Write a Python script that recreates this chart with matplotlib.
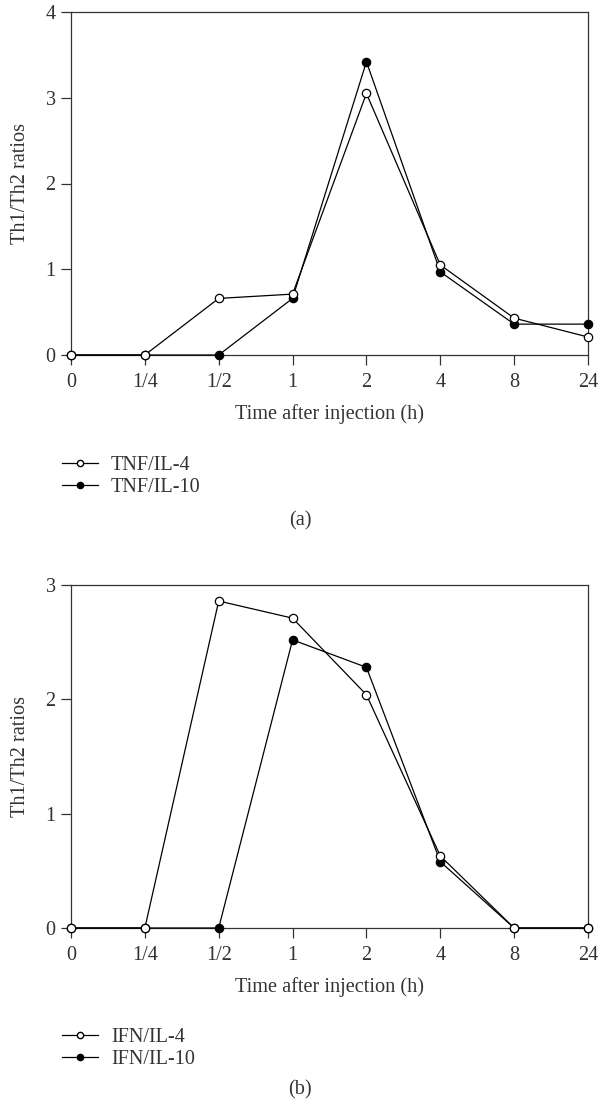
import matplotlib.pyplot as plt
from matplotlib.lines import Line2D

# categorical time points
times = ["0", "1/4", "1/2", "1", "2", "4", "8", "24"]

# panel (a)
tnf_il4 = [0, 0, 0.66, 0.71, 3.05, 1.05, 0.43, 0.21]
tnf_il10 = [0, 0, 0, 0.66, 3.42, 0.97, 0.36, 0.36]

# panel (b)
ifn_il4 = [0, 0, 2.86, 2.71, 2.04, 0.63, 0, 0]
ifn_il10 = [0, 0, 0, 2.52, 2.28, 0.58, 0, 0]

plt.rcParams['font.family'] = ['Liberation Serif', 'DejaVu Serif']
plt.rcParams['font.size'] = 14.6

fig = plt.figure(figsize=(6, 11.09), dpi=100)

def panel(rect, open_vals, filled_vals, ymax, names, legend_y, letter, letter_y):
    ax = fig.add_axes(rect)
    x = range(len(times))
    ax.plot(x, filled_vals, color='black', lw=0.9, marker='o', ms=6,
            mfc='black', mec='black', mew=0.9, zorder=3, clip_on=False)
    ax.plot(x, open_vals, color='black', lw=0.9, marker='o', ms=6,
            mfc='white', mec='black', mew=0.9, zorder=4, clip_on=False)
    ax.set_xlim(0, len(times) - 1)
    ax.set_ylim(0, ymax)
    ax.set_xticks(list(x))
    ax.set_xticklabels(times)
    ax.set_yticks(range(ymax + 1))
    ax.tick_params(direction='out', length=7, width=0.9, pad=4, color='#333333')
    ax.tick_params(axis='x', pad=6)
    for s in ax.spines.values():
        s.set_linewidth(0.9)
        s.set_color('#333333')
    ax.set_xlabel("Time after injection (h)", labelpad=9, color='#333333')
    ax.set_ylabel("Th1/Th2 ratios", labelpad=11, color='#333333')
    ax.tick_params(labelcolor='#333333')

    handles = [
        Line2D([], [], color='black', lw=0.9, marker='o', ms=4.5, mfc='white', mec='black'),
        Line2D([], [], color='black', lw=0.9, marker='o', ms=4.5, mfc='black', mec='black'),
    ]
    fig.legend(handles, names, loc='upper left', bbox_to_anchor=(44 / 600, 1 - legend_y / 1109),
               frameon=False, handlelength=1.75, handletextpad=0.65, labelspacing=0.12,
               labelcolor='#333333')
    fig.text(0.5, 1 - letter_y / 1109, letter, ha='center', va='center', color='#333333')
    return ax

panel([71 / 600, 1 - 355 / 1109, 517 / 600, 343 / 1109], tnf_il4, tnf_il10, 4,
      ["TNF/IL-4", "TNF/IL-10"], 438, "(a)", 521)
panel([71 / 600, 1 - 928 / 1109, 517 / 600, 343 / 1109], ifn_il4, ifn_il10, 3,
      ["IFN/IL-4", "IFN/IL-10"], 1010, "(b)", 1090)

fig.savefig("out.png", dpi=100)
